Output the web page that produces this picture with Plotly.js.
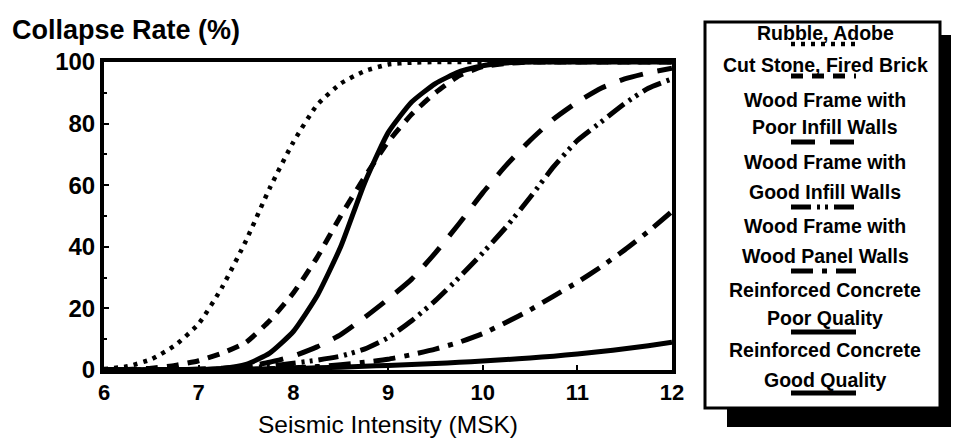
<!DOCTYPE html>
<html>
<head>
<meta charset="utf-8">
<script src="https://cdn.plot.ly/plotly-3.0.1.min.js"></script>
<style>html,body{margin:0;padding:0;background:#fff;}#chart{width:953px;height:447px;}</style>
</head>
<body>
<div id="chart"></div>
<script>
// ---- data ----
const intensity = [6, 6.25, 6.5, 6.75, 7, 7.25, 7.5, 7.75, 8, 8.25, 8.5, 8.75, 9, 9.25, 9.5, 9.75, 10, 10.25, 10.5, 10.75, 11, 11.25, 11.5, 11.75, 12];
const rubbleAdobe      = [0.3, 1.2, 3.5, 8, 15, 27, 42, 59, 74, 86, 93, 97, 99.2, 99.8, 100, 100, 100, 100, 100, 100, 100, 100, 100, 100, 100];
const cutStoneBrick    = [0, 0.2, 0.6, 1.5, 3, 5.5, 9, 16, 25, 36.5, 50, 62.5, 74, 83, 90, 95.5, 98.5, 99.5, 100, 100, 100, 100, 100, 100, 100];
const woodPoorInfill   = [0, 0, 0, 0.1, 0.3, 0.6, 1.2, 2.5, 4.5, 7.5, 11.5, 17, 23, 29.5, 38, 47.5, 57.5, 66.5, 74.5, 81.5, 87, 91.5, 94.5, 96.5, 98];
const woodGoodInfill   = [0, 0, 0, 0, 0.1, 0.3, 0.7, 1.3, 2.2, 3.2, 4.5, 6.8, 10.5, 16, 22.5, 30, 38, 46.5, 56, 66, 74.5, 80.5, 86.5, 91.5, 94.5];
const woodPanel        = [0, 0, 0, 0, 0, 0.1, 0.2, 0.4, 0.7, 1.1, 1.7, 2.5, 3.5, 5, 6.8, 9, 11.8, 15.5, 19.5, 24, 28.5, 33.5, 39, 45, 51.5];
const rcPoor           = [0, 0, 0, 0, 0.1, 0.5, 1.8, 5.5, 12.5, 24, 40, 60.5, 77, 87, 93, 96.8, 98.8, 99.7, 100, 100, 100, 100, 100, 100, 100];
const rcGood           = [0.1, 0.1, 0.1, 0.2, 0.2, 0.3, 0.3, 0.4, 0.5, 0.7, 0.9, 1.2, 1.5, 1.8, 2.1, 2.5, 2.9, 3.4, 3.9, 4.5, 5.2, 6, 6.9, 7.9, 9];
const seriesNames = ["Rubble, Adobe", "Cut Stone, Fired Brick", "Wood Frame with Poor Infill Walls", "Wood Frame with Good Infill Walls", "Wood Frame with Wood Panel Walls", "Reinforced Concrete Poor Quality", "Reinforced Concrete Good Quality"];
const legendLines = [["Rubble, Adobe"], ["Cut Stone, Fired Brick"], ["Wood Frame with", "Poor Infill Walls"], ["Wood Frame with", "Good Infill Walls"], ["Wood Frame with", "Wood Panel Walls"], ["Reinforced Concrete", "Poor Quality"], ["Reinforced Concrete", "Good Quality"]];
const xTicks = [6, 7, 8, 9, 10, 11, 12];
const yTicks = [0, 20, 40, 60, 80, 100];

// ---- styles / layout (pixel geometry) ----
const W = 953, H = 447;
const M = {l: 104, r: 281, t: 62, b: 77};
const PW = W - M.l - M.r, PH = H - M.t - M.b;
const px = x => (x - M.l) / PW;
const py = y => (H - M.b - y) / PH;
const dashes = ["4px,6px", "12px,9px", "24px,15px", "20px,6px,3px,5px,3px,6px", "22px,9px,5px,9px", "solid", "solid"];
const widths = [4.5, 5, 5, 5, 5, 5, 5];
const seriesY = [rubbleAdobe, cutStoneBrick, woodPoorInfill, woodGoodInfill, woodPanel, rcPoor, rcGood];
const legendTextY = [[33], [65], [100, 127], [162, 192], [226, 256], [290, 318], [350, 380]];
const legendSampleY = [44, 76, 142, 207, 271, 332, 393];
const FONT = "Liberation Sans, Arial, Helvetica, sans-serif";

const traces = seriesY.map((y, i) => ({
  x: intensity, y: y, type: "scatter", mode: "lines", name: seriesNames[i],
  line: {color: "#000", width: widths[i], dash: dashes[i], shape: "spline", smoothing: 0.5},
  showlegend: false, hoverinfo: "skip"
}));

const shapes = [
  {type: "rect", xref: "paper", yref: "paper", x0: px(727), x1: px(951), y0: py(427), y1: py(35), fillcolor: "#000", line: {width: 0}, layer: "above"},
  {type: "rect", xref: "paper", yref: "paper", x0: px(705), x1: px(940), y0: py(408), y1: py(22), fillcolor: "#fff", line: {color: "#000", width: 3}, layer: "above"}
];
const annotations = [];
legendLines.forEach((lines, i) => {
  lines.forEach((t, j) => {
    annotations.push({text: t, xref: "paper", yref: "paper", x: px(825), y: py(legendTextY[i][j]), xanchor: "center", yanchor: "middle", showarrow: false,
      font: {family: FONT, size: 19.5, weight: "bold", color: "#000"}});
  });
  shapes.push({type: "line", xref: "paper", yref: "paper", x0: px(791), x1: px(856), y0: py(legendSampleY[i]), y1: py(legendSampleY[i]),
    line: {color: "#000", width: widths[i], dash: dashes[i]}, layer: "above"});
});

const layout = {
  width: W, height: H, margin: M, paper_bgcolor: "#fff", plot_bgcolor: "#fff",
  showlegend: false,
  title: {text: "Collapse Rate (%)", x: 12 / W, xanchor: "left", xref: "container", y: 1 - 30 / H, yanchor: "middle", yref: "container",
    font: {family: FONT, size: 27, weight: "bold", color: "#000"}},
  xaxis: {range: [6, 12], tickvals: xTicks, ticktext: xTicks.map(String), showgrid: false, zeroline: false,
    showline: true, linecolor: "#000", linewidth: 4, mirror: true, ticks: "inside", ticklen: 5, tickwidth: 2, tickcolor: "#000",
    tickfont: {family: FONT, size: 22, weight: "bold", color: "#000"},
    title: {text: "Seismic Intensity (MSK)", standoff: 12, font: {family: FONT, size: 24.5, color: "#000"}}},
  yaxis: {range: [0, 100], tickvals: yTicks, ticktext: yTicks.map(String), showgrid: false, zeroline: false,
    showline: true, linecolor: "#000", linewidth: 4, mirror: true, ticks: "inside", ticklen: 5, tickwidth: 2, tickcolor: "#000",
    minor: {dtick: 10, ticks: "inside", ticklen: 3, tickwidth: 2, tickcolor: "#000"},
    tickfont: {family: FONT, size: 24, weight: "bold", color: "#000"}},
  shapes: shapes, annotations: annotations
};
Plotly.newPlot("chart", traces, layout, {displayModeBar: false, staticPlot: true});
</script>
</body>
</html>
